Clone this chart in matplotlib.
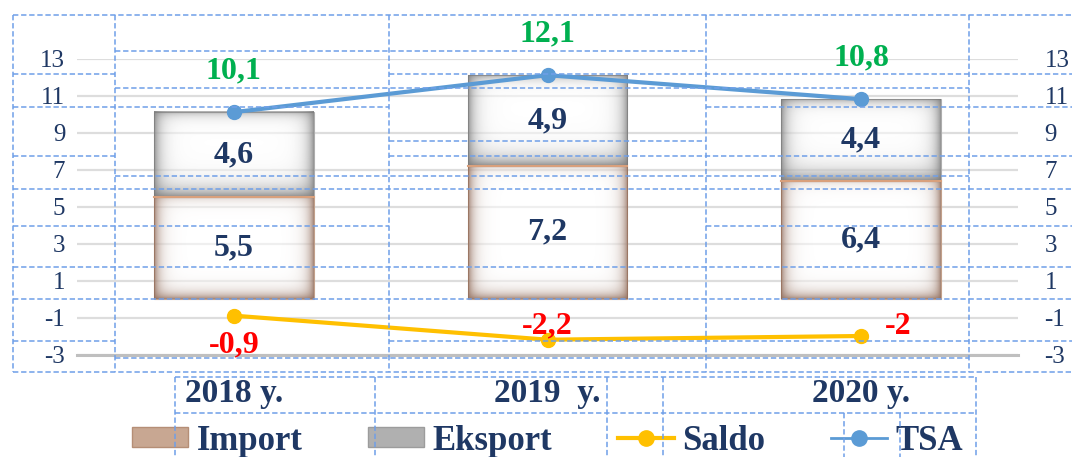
import numpy as np
import matplotlib
matplotlib.use("Agg")
import matplotlib.pyplot as plt
from matplotlib.lines import Line2D
from matplotlib.patches import Patch

# trade balance, bln USD
years = ["2018 y.", "2019  y.", "2020 y."]
import_vals = [5.5, 7.2, 6.4]
export_vals = [4.6, 4.9, 4.4]
saldo_vals = [-0.9, -2.2, -2.0]
tsa_vals = [10.1, 12.1, 10.8]
y_ticks = [-3, -1, 1, 3, 5, 7, 9, 11, 13]

NAVY = "#1F3864"
SERIF = "Liberation Serif"
BLUE = "#5B9BD5"
GOLD = "#FFC000"

# label offsets (points) for the saldo values
saldo_offsets = [(0, -21), (0, 10), (27, 7)]


def comma(v):
    return f"{v:g}".replace(".", ",")


def soft_fill(ax, rect, rgb, edges):
    """Shade a bar rectangle with colour that fades inward from its edges."""
    x0, y0 = rect.get_x(), rect.get_y()
    x1, y1 = x0 + rect.get_width(), y0 + rect.get_height()
    (px0, py0), (px1, py1) = ax.transData.transform([(x0, y0), (x1, y1)])
    w = max(int(round(abs(px1 - px0))), 2)
    h = max(int(round(abs(py1 - py0))), 2)
    X, Y = np.meshgrid(np.arange(w) + 0.5, np.arange(h) + 0.5)
    dist = {"left": X, "right": w - X, "top": Y, "bottom": h - Y}
    keep = np.ones_like(X)
    for side, (a, s) in edges.items():
        keep *= 1 - a * np.exp(-dist[side] / s)
    img = np.zeros((h, w, 4))
    img[..., :3] = np.array(rgb) / 255.0
    img[..., 3] = 1 - keep
    ax.imshow(img, extent=(x0, x1, y0, y1), origin="upper", aspect="auto",
              interpolation="bilinear", zorder=2)


fig = plt.figure(figsize=(10.72, 4.57), dpi=100)
ax = fig.add_axes([77 / 1072, 1 - 354.5 / 457, 941 / 1072, 296 / 457])
x = np.arange(len(years))
width = 0.51

ax.set_xlim(-0.5, len(years) - 0.5)
ax.set_ylim(-3, 13)

imp = ax.bar(x, import_vals, width, color=(1, 1, 1, 0.55),
             edgecolor="#C2A08A", linewidth=0.8, zorder=1.5)
exp_ = ax.bar(x, export_vals, width, bottom=import_vals, color=(1, 1, 1, 0.55),
              edgecolor="#ADADAD", linewidth=0.8, zorder=1.5)

for r in imp:
    soft_fill(ax, r, (145, 108, 90),
              {"left": (0.85, 6.0), "right": (0.85, 6.0),
               "bottom": (0.85, 6.0), "top": (0.3, 5.0)})
    ax.plot([r.get_x(), r.get_x() + r.get_width()], [r.get_height()] * 2,
            color="#D9A07C", lw=1.5, zorder=2.5)
for r in exp_:
    soft_fill(ax, r, (118, 118, 118),
              {"left": (0.8, 7.0), "right": (0.8, 7.0),
               "bottom": (0.85, 9.0), "top": (0.6, 5.0)})

ax.set_xlim(-0.5, len(years) - 0.5)
ax.set_ylim(-3, 13)

lbl = dict(family=SERIF, weight="bold", size=23)
ax.bar_label(imp, labels=[comma(v) for v in import_vals], label_type="center",
             color=NAVY, zorder=3, **lbl)
ax.bar_label(exp_, labels=[comma(v) for v in export_vals], label_type="center",
             color=NAVY, zorder=3, **lbl)

ax.plot(x, tsa_vals, color=BLUE, lw=3, marker="o", ms=10, zorder=4)
ax.plot(x, saldo_vals, color=GOLD, lw=3, marker="o", ms=10, zorder=4)

for xi, v in zip(x, tsa_vals):
    ax.annotate(comma(v), (xi, v), xytext=(0, 30), textcoords="offset points",
                ha="center", va="center", color="#00B050", zorder=5, **lbl)
for xi, v, off in zip(x, saldo_vals, saldo_offsets):
    ax.annotate(comma(v), (xi, v), xytext=off, textcoords="offset points",
                ha="center", va="center", color="#FF0000", zorder=5, **lbl)

# axes styling
ax.set_yticks(y_ticks)
ax.set_yticklabels([str(t) for t in y_ticks])
ax.set_xticks(x)
ax.set_xticklabels(years)
ax.grid(axis="y", color="#DDDDDD", lw=1.6)
ax.set_axisbelow(True)
for s in ("left", "right", "top"):
    ax.spines[s].set_visible(False)
ax.spines["bottom"].set_color("#BFBFBF")
ax.spines["bottom"].set_linewidth(2.2)
ax.tick_params(axis="y", length=0, pad=8.5, labelsize=18, labelcolor=NAVY)
ax.tick_params(axis="x", length=0, pad=17, labelsize=24, labelcolor=NAVY)
for t in ax.get_yticklabels():
    t.set_family(SERIF)
for t in ax.get_xticklabels():
    t.set_family(SERIF)
    t.set_weight("bold")

ax2 = ax.twinx()
ax2.set_ylim(ax.get_ylim())
ax2.set_yticks(y_ticks)
ax2.set_yticklabels([str(t) for t in y_ticks])
ax2.tick_params(axis="y", length=0, pad=19, labelsize=18, labelcolor=NAVY)
for t in ax2.get_yticklabels():
    t.set_family(SERIF)
for s in ax2.spines.values():
    s.set_visible(False)

handles = [
    Patch(facecolor="#C8A792", edgecolor="#B58E76", lw=1),
    Patch(facecolor="#B0B0B0", edgecolor="#9C9C9C", lw=1),
    Line2D([], [], color=GOLD, lw=3, marker="o", ms=11),
    Line2D([], [], color=BLUE, lw=2, marker="o", ms=11),
]
fig.legend(handles, ["Import", "Eksport", "Saldo", "TSA"], loc="center",
           bbox_to_anchor=(0.511, 0.035), ncol=4, frameon=False,
           prop=dict(family=SERIF, weight="bold", size=25), labelcolor=NAVY,
           handlelength=1.6, handleheight=0.5, handletextpad=0.25,
           columnspacing=1.9)

# dashed table frame drawn over the chart (pixel coordinates)
frame_rows = [
    (15, 13, 1072), (51, 115, 706), (74, 13, 115), (74, 389, 1072),
    (88, 115, 969), (107, 13, 389), (107, 706, 1072), (141, 389, 706),
    (156, 13, 115), (156, 389, 1072), (176, 115, 969), (189, 13, 1072),
    (226, 13, 389), (226, 706, 1072), (267, 13, 1072), (299, 13, 1072),
    (341, 13, 115), (341, 389, 1072), (358, 115, 969), (372, 13, 1072),
    (377, 175, 976), (413, 175, 976),
]
frame_cols = [
    (13, 15, 372), (115, 15, 372), (389, 15, 372), (706, 15, 372),
    (969, 15, 372), (175, 377, 457), (375, 377, 457), (607, 377, 457),
    (663, 377, 457), (844, 413, 457), (900, 413, 457), (976, 377, 457),
]
frame = fig.add_axes([0, 0, 1, 1], zorder=10)
frame.set_xlim(0, 1072)
frame.set_ylim(457, 0)
frame.axis("off")
dash = dict(color="#6F9FE8", lw=1.1, ls=(0, (3.5, 1.8)))
for y, x0, x1 in frame_rows:
    frame.plot([x0, x1], [y, y], **dash)
for xc, y0, y1 in frame_cols:
    frame.plot([xc, xc], [y0, y1], **dash)

fig.savefig("out.png", dpi=100)
